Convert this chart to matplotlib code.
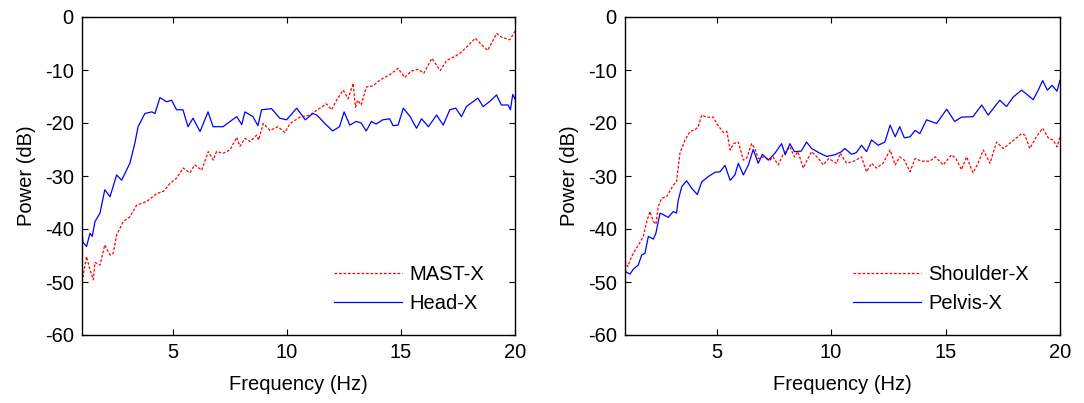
import matplotlib
matplotlib.use("Agg")
import matplotlib.pyplot as plt

plt.rcParams['font.family'] = ['Liberation Sans', 'DejaVu Sans']
plt.rcParams['axes.unicode_minus'] = False

# ---- Left panel data ----
head_f = [1.0, 1.04, 1.2, 1.35, 1.45, 1.57, 1.79, 2.0, 2.23, 2.52, 2.74, 3.1, 3.32, 3.46, 3.76, 4.06,
          4.2, 4.42, 4.71, 4.93, 5.15, 5.43, 5.65, 5.87, 6.18, 6.53, 6.75, 7.19, 7.5, 7.79, 8.01,
          8.15, 8.5, 8.72, 8.88, 9.32, 9.68, 9.98, 10.42, 10.8, 11.13, 11.3, 11.73, 12.0, 12.3,
          12.5, 12.75, 13.03, 13.25, 13.47, 13.7, 13.9, 14.2, 14.5, 14.65, 14.87, 15.1, 15.4,
          15.68, 15.9, 16.2, 16.56, 16.85, 17.14, 17.4, 17.65, 17.87, 18.09, 18.37, 18.6, 18.9,
          19.19, 19.4, 19.7, 19.8, 19.9, 20.0]
head_db = [-40.5, -42.5, -43.3, -40.8, -41.4, -38.6, -37.0, -32.6, -33.9, -29.8, -30.8, -27.6, -23.8,
           -20.7, -18.2, -17.9, -18.2, -15.2, -16.0, -15.7, -17.5, -17.5, -20.7, -19.1, -21.6,
           -17.9, -20.7, -20.7, -19.7, -18.8, -20.3, -17.9, -18.8, -20.5, -17.5, -17.3, -19.1,
           -19.4, -17.2, -19.4, -18.2, -18.5, -20.4, -21.5, -20.7, -17.9, -20.4, -19.7, -20.0,
           -21.5, -19.7, -20.2, -19.4, -19.2, -20.5, -20.4, -17.2, -18.8, -21.0, -19.2, -20.7,
           -18.5, -20.4, -17.5, -17.2, -18.8, -16.9, -16.2, -15.3, -16.9, -15.9, -14.7, -16.6,
           -16.6, -17.5, -14.6, -15.5]

mast_f = [1.0, 1.04, 1.2, 1.35, 1.5, 1.57, 1.79, 2.0, 2.23, 2.37, 2.52, 2.81, 3.1, 3.4, 3.84, 4.28,
          4.57, 4.86, 5.15, 5.44, 5.73, 5.95, 6.25, 6.54, 6.76, 6.9, 7.2, 7.49, 7.79, 7.93, 8.15,
          8.37, 8.66, 8.75, 8.95, 9.25, 9.6, 9.9, 10.13, 10.56, 11.0, 11.44, 11.73, 11.95, 12.17,
          12.46, 12.68, 12.9, 12.95, 13.0, 13.1, 13.25, 13.48, 13.77, 14.07, 14.5, 14.87, 15.16,
          15.45, 15.75, 16.0, 16.35, 16.72, 17.0, 17.38, 17.6, 17.89, 18.26, 18.48, 18.8, 19.2,
          19.4, 19.77, 20.0]
mast_db = [-48.0, -49.0, -45.2, -47.7, -49.6, -46.3, -46.8, -43.0, -44.9, -44.6, -41.1, -38.6, -37.7,
           -35.5, -34.8, -33.3, -32.9, -31.4, -30.4, -28.5, -29.4, -27.9, -28.9, -25.4, -27.0,
           -25.4, -25.7, -25.1, -22.7, -24.4, -22.9, -23.5, -22.3, -23.2, -20.1, -21.4, -20.7,
           -21.8, -20.1, -18.9, -18.5, -17.2, -16.4, -17.5, -15.7, -13.8, -15.4, -12.5, -15.0,
           -17.0, -15.7, -16.6, -13.2, -13.0, -11.9, -10.9, -9.7, -11.4, -10.2, -9.9, -10.6,
           -7.8, -10.1, -8.2, -7.4, -6.8, -5.6, -4.0, -5.0, -6.3, -3.1, -3.8, -4.3, -2.7]

# ---- Right panel data ----
pelvis_f = [1.0, 1.04, 1.22, 1.36, 1.58, 1.73, 1.87, 2.02, 2.24, 2.35, 2.53, 2.89, 3.11, 3.25, 3.33,
            3.48, 3.69, 3.91, 4.16, 4.35, 4.64, 4.93, 5.15, 5.37, 5.59, 5.8, 5.95, 6.17, 6.39,
            6.6, 6.82, 7.0, 7.26, 7.55, 7.84, 8.0, 8.2, 8.4, 8.7, 8.93, 9.15, 9.51, 9.81, 10.17,
            10.46, 10.6, 10.9, 11.1, 11.33, 11.55, 11.77, 12.06, 12.35, 12.58, 12.8, 13.0, 13.2,
            13.45, 13.67, 13.88, 14.17, 14.61, 15.05, 15.4, 15.7, 16.2, 16.58, 16.86, 17.1, 17.37,
            17.66, 17.96, 18.32, 18.61, 18.83, 19.05, 19.24, 19.45, 19.65, 19.87, 20.0]
pelvis_db = [-47.5, -48.1, -48.5, -47.6, -46.8, -44.9, -44.6, -41.4, -41.9, -40.8, -37.0, -37.8, -36.7,
             -37.0, -34.5, -32.0, -30.9, -32.3, -33.5, -31.1, -30.1, -29.3, -29.2, -28.0, -30.8,
             -29.8, -27.6, -29.8, -27.9, -25.0, -27.6, -25.9, -27.0, -25.7, -23.9, -26.0, -23.9,
             -25.4, -25.3, -23.6, -24.8, -25.7, -26.3, -26.0, -25.4, -24.8, -25.9, -25.6, -24.2,
             -25.4, -23.2, -24.2, -23.6, -20.4, -22.6, -20.7, -22.8, -22.6, -21.4, -22.0, -19.4,
             -20.1, -17.4, -19.7, -18.9, -18.8, -16.6, -18.5, -17.2, -15.7, -16.9, -15.1, -13.8,
             -14.8, -15.6, -13.8, -12.0, -13.8, -12.9, -14.0, -11.9]

shoulder_f = [1.0, 1.04, 1.12, 1.29, 1.44, 1.58, 1.8, 1.95, 2.09, 2.24, 2.35, 2.45, 2.6, 2.82, 3.11,
              3.25, 3.4, 3.62, 3.84, 4.05, 4.2, 4.35, 4.57, 4.86, 5.0, 5.3, 5.45, 5.59, 5.74, 5.95,
              6.17, 6.31, 6.53, 6.67, 6.82, 7.05, 7.33, 7.47, 7.69, 7.9, 8.2, 8.4, 8.55, 8.79, 8.95,
              9.15, 9.45, 9.66, 9.9, 10.24, 10.4, 10.68, 11.0, 11.33, 11.55, 11.77, 11.98, 12.27,
              12.58, 12.8, 13.0, 13.2, 13.45, 13.67, 13.95, 14.32, 14.55, 14.9, 15.26, 15.45, 15.7,
              15.92, 16.2, 16.42, 16.65, 16.94, 17.23, 17.52, 17.88, 18.32, 18.47, 18.68, 18.97,
              19.24, 19.5, 19.7, 19.87, 20.0]
shoulder_db = [-46.0, -46.5, -47.1, -45.2, -44.0, -43.1, -41.4, -38.6, -36.7, -38.6, -39.1, -35.8,
               -34.2, -33.9, -31.7, -31.1, -25.7, -23.2, -21.6, -21.3, -20.7, -18.5, -18.9, -18.9,
               -20.1, -21.8, -21.6, -25.1, -23.9, -23.6, -27.0, -26.7, -23.9, -24.8, -26.7, -26.4,
               -27.0, -26.4, -27.9, -26.0, -24.5, -26.4, -25.4, -28.5, -27.0, -25.4, -26.7, -27.9,
               -26.7, -27.6, -25.7, -27.6, -27.2, -26.4, -29.2, -27.6, -28.5, -27.6, -25.1, -27.9,
               -26.4, -27.0, -29.2, -26.7, -27.2, -27.2, -26.4, -27.9, -26.0, -26.7, -28.8, -26.4,
               -29.4, -27.6, -25.1, -27.6, -23.6, -24.8, -23.6, -22.0, -22.3, -24.8, -22.6, -21.0,
               -22.9, -23.2, -24.5, -22.6]

x_ticks = [5, 10, 15, 20]
y_ticks = [-60, -50, -40, -30, -20, -10, 0]

FS = 14.5
dotted = (0, (2.2, 1.4))

fig = plt.figure(figsize=(10.84, 4.03), dpi=100)
ax1 = fig.add_axes([82 / 1084, 68 / 403, 433 / 1084, 318 / 403])
ax2 = fig.add_axes([625 / 1084, 68 / 403, 435 / 1084, 318 / 403])

ax1.plot(mast_f, mast_db, color='#ff0000', lw=0.9, ls=dotted, label='MAST-X')
ax1.plot(head_f, head_db, color='#0000ff', lw=0.9, label='Head-X')
ax2.plot(shoulder_f, shoulder_db, color='#ff0000', lw=0.9, ls=dotted, label='Shoulder-X')
ax2.plot(pelvis_f, pelvis_db, color='#0000ff', lw=0.9, label='Pelvis-X')

for ax in (ax1, ax2):
    ax.set_xlim(1, 20)
    ax.set_ylim(-60, 0)
    ax.set_xticks(x_ticks)
    ax.set_yticks(y_ticks)
    ax.tick_params(direction='in', top=True, right=True, length=4, width=0.8,
                   labelsize=FS, pad=6)
    for s in ax.spines.values():
        s.set_linewidth(1.0)
    ax.set_xlabel('Frequency (Hz)', fontsize=FS, labelpad=9)
    ax.set_ylabel('Power (dB)', fontsize=FS, labelpad=6)
    ax.legend(loc='lower right', bbox_to_anchor=(0.947, 0.045), frameon=False,
              fontsize=FS, handlelength=3.4, handletextpad=0.35, labelspacing=0.5,
              borderaxespad=0.0)

fig.savefig('out.png', dpi=100)
